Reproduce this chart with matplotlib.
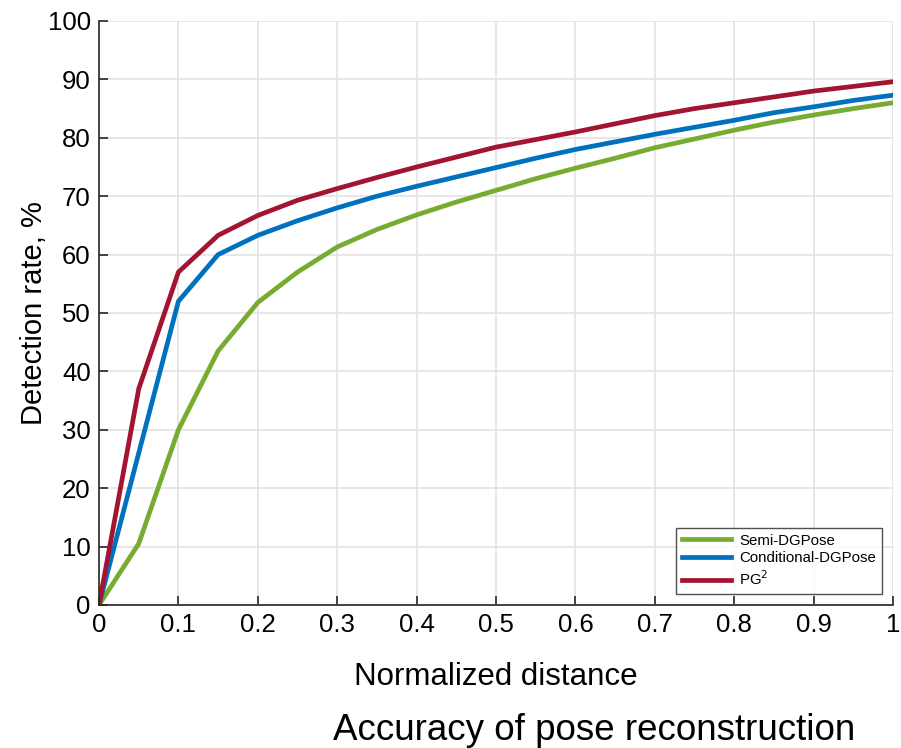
import matplotlib
matplotlib.use("Agg")
import matplotlib.pyplot as plt
import numpy as np

plt.rcParams['font.family'] = ['Liberation Sans', 'DejaVu Sans']

x = [0, 0.05, 0.1, 0.15, 0.2, 0.25, 0.3, 0.35, 0.4, 0.45, 0.5, 0.55, 0.6, 0.65,
     0.7, 0.75, 0.8, 0.85, 0.9, 0.95, 1.0]
semi = [0, 10.5, 30, 43.5, 51.8, 57, 61.3, 64.3, 66.8, 69, 71, 73, 74.8, 76.5,
        78.3, 79.8, 81.3, 82.7, 83.9, 85, 86]
cond = [0, 26, 52, 60, 63.3, 65.8, 68, 70, 71.7, 73.3, 74.9, 76.5, 78, 79.3,
        80.6, 81.8, 83, 84.3, 85.3, 86.4, 87.3]
pg2 = [0, 37, 57, 63.3, 66.7, 69.3, 71.3, 73.2, 75, 76.7, 78.4, 79.7, 81, 82.4,
       83.8, 85, 86, 87, 88, 88.8, 89.6]
labels = ["Semi-DGPose", "Conditional-DGPose", "PG$^2$"]
colors = ["#77ac30", "#0072bd", "#a2142f"]

fig = plt.figure(figsize=(9.01, 7.48), dpi=100)
ax = fig.add_axes([99/901, 1-605/748, (893-99)/901, (605-21)/748])

for ys, lab, c in zip([semi, cond, pg2], labels, colors):
    ax.plot(x, ys, color=c, lw=3.4, label=lab, solid_joinstyle='miter')

ax.set_xlim(0, 1)
ax.set_ylim(0, 100)
ax.set_xticks(np.arange(0, 1.01, 0.1))
ax.set_xticklabels(["0", "0.1", "0.2", "0.3", "0.4", "0.5", "0.6", "0.7", "0.8", "0.9", "1"])
ax.set_yticks(np.arange(0, 101, 10))
ax.grid(True, color="#e3e3e3", lw=1.2)
ax.set_axisbelow(True)
for s in ["top", "right"]:
    ax.spines[s].set_visible(False)
for s in ["left", "bottom"]:
    ax.spines[s].set_color("#262626")
    ax.spines[s].set_linewidth(1.2)
ax.tick_params(direction="in", length=6.5, width=1.2, labelsize=18.5, colors="#262626",
               labelcolor="black", pad=6)
ax.set_xlabel("Normalized distance", fontsize=22.5, labelpad=18)
ax.set_ylabel("Detection rate, %", fontsize=21, labelpad=0)

leg = ax.legend(loc="lower right", fontsize=10.8, frameon=True, fancybox=False,
                edgecolor="#262626", handlelength=3.3, borderaxespad=0.75,
                labelspacing=0.25, handletextpad=0.5, borderpad=0.4)
leg.get_frame().set_linewidth(1.0)

fig.text(594/901, 1-730/748, "Accuracy of pose reconstruction", fontsize=26.5,
         ha="center", va="center")

fig.savefig("out.png", dpi=100)
